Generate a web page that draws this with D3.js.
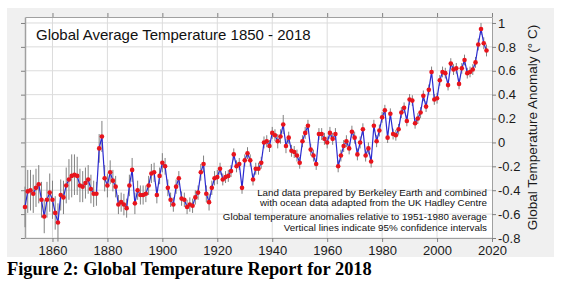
<!DOCTYPE html>
<html>
<head>
<meta charset="utf-8">
<script src="https://cdn.jsdelivr.net/npm/d3@7"></script>
<style>
  body { margin: 0; background: #fff; }
</style>
</head>
<body>
<div id="chart"></div>
<script>
// Getting the data (annual anomaly, deg C, relative to 1951-1980)
var years = d3.range(1850, 2019);
var anomaly = [
  -0.54, -0.41, -0.40, -0.43, -0.38, -0.35, -0.48, -0.62, -0.48, -0.42,
  -0.48, -0.59, -0.67, -0.44, -0.46, -0.36, -0.31, -0.28, -0.27, -0.28,
  -0.36, -0.37, -0.34, -0.31, -0.39, -0.43, -0.43, -0.05, 0.05, -0.30,
  -0.36, -0.25, -0.32, -0.37, -0.52, -0.50, -0.52, -0.55, -0.36, -0.23,
  -0.51, -0.40, -0.44, -0.44, -0.43, -0.36, -0.26, -0.25, -0.44, -0.28,
  -0.17, -0.20, -0.38, -0.48, -0.52, -0.37, -0.30, -0.47, -0.48, -0.54,
  -0.52, -0.53, -0.46, -0.42, -0.25, -0.18, -0.43, -0.50, -0.38, -0.30,
  -0.29, -0.22, -0.31, -0.29, -0.28, -0.24, -0.10, -0.20, -0.18, -0.38,
  -0.15, -0.09, -0.15, -0.31, -0.22, -0.22, -0.17, 0.00, 0.01, -0.03,
  0.08, 0.06, 0.01, 0.05, 0.15, -0.03, 0.04, -0.07, -0.08, -0.11,
  -0.17, 0.01, 0.08, 0.14, -0.06, -0.11, -0.18, 0.07, 0.07, 0.03,
  0.00, 0.08, 0.03, 0.07, -0.20, -0.11, -0.03, 0.01, -0.05, 0.09,
  0.04, -0.10, 0.00, 0.11, -0.11, -0.05, -0.16, 0.14, 0.01, 0.10,
  0.21, 0.27, 0.04, 0.24, 0.07, 0.06, 0.11, 0.25, 0.29, 0.18,
  0.36, 0.35, 0.16, 0.20, 0.25, 0.39, 0.30, 0.44, 0.59, 0.36,
  0.37, 0.52, 0.59, 0.58, 0.48, 0.66, 0.61, 0.62, 0.49, 0.62,
  0.69, 0.58, 0.59, 0.61, 0.67, 0.82, 0.95, 0.83, 0.77
];
// half width of the 95% confidence interval
var uncertainty = [
  0.17, 0.18, 0.17, 0.16, 0.16, 0.16, 0.15, 0.14, 0.15, 0.16,
  0.16, 0.14, 0.16, 0.13, 0.14, 0.15, 0.17, 0.18, 0.17, 0.16,
  0.14, 0.13, 0.13, 0.12, 0.12, 0.11, 0.10, 0.12, 0.13, 0.11,
  0.10, 0.10, 0.09, 0.09, 0.08, 0.08, 0.09, 0.08, 0.09, 0.10,
  0.09, 0.08, 0.08, 0.08, 0.07, 0.08, 0.08, 0.08, 0.07, 0.07,
  0.08, 0.07, 0.07, 0.06, 0.06, 0.06, 0.06, 0.06, 0.06, 0.06,
  0.06, 0.06, 0.06, 0.06, 0.07, 0.07, 0.07, 0.07, 0.06, 0.06,
  0.06, 0.05, 0.05, 0.05, 0.05, 0.05, 0.05, 0.05, 0.05, 0.05,
  0.05, 0.05, 0.05, 0.05, 0.05, 0.05, 0.05, 0.05, 0.05, 0.05,
  0.05, 0.05, 0.06, 0.06, 0.08, 0.06, 0.05, 0.05, 0.05, 0.05,
  0.05, 0.05, 0.05, 0.05, 0.05, 0.05, 0.05, 0.05, 0.05, 0.05,
  0.05, 0.05, 0.05, 0.05, 0.05, 0.05, 0.05, 0.05, 0.05, 0.05,
  0.05, 0.05, 0.05, 0.05, 0.05, 0.05, 0.05, 0.05, 0.05, 0.05,
  0.045, 0.045, 0.045, 0.045, 0.045, 0.045, 0.045, 0.045, 0.045, 0.045,
  0.045, 0.045, 0.045, 0.045, 0.045, 0.045, 0.045, 0.045, 0.045, 0.045,
  0.045, 0.045, 0.045, 0.045, 0.045, 0.045, 0.045, 0.045, 0.045, 0.045,
  0.045, 0.045, 0.045, 0.045, 0.045, 0.05, 0.05, 0.05, 0.05
];
var xTicks = [1860, 1880, 1900, 1920, 1940, 1960, 1980, 2000, 2020];
var yTicks = [-0.8, -0.6, -0.4, -0.2, 0, 0.2, 0.4, 0.6, 0.8, 1];
var notes = [
  "Land data prepared by Berkeley Earth and combined",
  "with ocean data adapted from the UK Hadley Centre",
  "Global temperature anomalies relative to 1951-1980 average",
  "Vertical lines indicate 95% confidence intervals"
];

var data = years.map(function (yr, i) {
  return { year: yr, value: anomaly[i], err: uncertainty[i] };
});

// Setting up the page and the plot area
var W = 561, H = 290;
var plot = { left: 25, right: 492, top: 17, bottom: 238 };

var svg = d3.select('#chart').append('svg')
  .attr('width', W)
  .attr('height', H)
  .style('display', 'block');

// grey panel behind the figure
svg.append('rect')
  .attr('x', 7).attr('y', 8)
  .attr('width', 547).attr('height', 249)
  .attr('fill', '#f0f0f0');

svg.append('rect')
  .attr('x', plot.left).attr('y', plot.top)
  .attr('width', plot.right - plot.left)
  .attr('height', plot.bottom - plot.top)
  .attr('fill', '#fff');

// Set the ranges
var x = d3.scaleLinear().domain([1850, 2020]).range([plot.left, plot.right]);
var y = d3.scaleLinear().domain([-0.8, 1.05]).range([plot.bottom, plot.top]);

// Grid lines
svg.append('g').selectAll('line')
  .data(xTicks.slice(0, -1))
  .enter().append('line')
  .attr('x1', function (d) { return x(d); })
  .attr('x2', function (d) { return x(d); })
  .attr('y1', plot.top).attr('y2', plot.bottom)
  .attr('stroke', '#dcdcdc').attr('stroke-width', 1);

svg.append('g').selectAll('line')
  .data(yTicks)
  .enter().append('line')
  .attr('x1', plot.left).attr('x2', plot.right)
  .attr('y1', function (d) { return y(d); })
  .attr('y2', function (d) { return y(d); })
  .attr('stroke', '#dcdcdc').attr('stroke-width', 1);

// Axes: bottom and right carry labels, top and left only ticks
var fmtY = function (d) { return d === 0 ? '0' : String(d); };
var font = '13px "Liberation Sans", Arial, sans-serif';

var axBottom = svg.append('g')
  .attr('transform', 'translate(0,' + plot.bottom + ')')
  .call(d3.axisBottom(x).tickValues(xTicks).tickFormat(d3.format('d'))
    .tickSize(4).tickSizeOuter(0).tickPadding(4));
var axRight = svg.append('g')
  .attr('transform', 'translate(' + plot.right + ',0)')
  .call(d3.axisRight(y).tickValues(yTicks).tickFormat(fmtY)
    .tickSize(4).tickSizeOuter(0).tickPadding(2));
var axTop = svg.append('g')
  .attr('transform', 'translate(0,' + plot.top + ')')
  .call(d3.axisTop(x).tickValues(xTicks).tickFormat('').tickSize(4).tickSizeOuter(0));
var axLeft = svg.append('g')
  .attr('transform', 'translate(' + plot.left + ',0)')
  .call(d3.axisLeft(y).tickValues(yTicks).tickFormat('').tickSize(4).tickSizeOuter(0));

[axBottom, axRight, axTop, axLeft].forEach(function (g) {
  g.selectAll('path.domain').attr('stroke', '#a0a0a0');
  g.selectAll('.tick line').attr('stroke', '#808080');
  g.selectAll('text').style('font', font).attr('fill', '#1a1a1a');
});
axLeft.select('path.domain').attr('stroke-width', 1.5);

// Y axis label
svg.append('text')
  .attr('transform', 'translate(537,' + ((plot.top + plot.bottom) / 2) + ') rotate(-90)')
  .style('text-anchor', 'middle')
  .style('font', '13.5px "Liberation Sans", Arial, sans-serif')
  .attr('fill', '#1a1a1a')
  .text('Global Temperature Anomaly (\u00b0 C)');

// Title
svg.append('text')
  .attr('x', 36).attr('y', 40)
  .style('font', '15px "Liberation Sans", Arial, sans-serif')
  .attr('fill', '#111')
  .text('Global Average Temperature 1850 - 2018');

// Confidence interval bars
svg.append('g').selectAll('line')
  .data(data)
  .enter().append('line')
  .attr('x1', function (d) { return x(d.year); })
  .attr('x2', function (d) { return x(d.year); })
  .attr('y1', function (d) { return y(d.value - d.err); })
  .attr('y2', function (d) { return y(d.value + d.err); })
  .attr('stroke', '#808080')
  .attr('stroke-width', 1);

// Define and draw the line
var valueline = d3.line()
  .x(function (d) { return x(d.year); })
  .y(function (d) { return y(d.value); });

svg.append('path')
  .datum(data)
  .attr('d', valueline)
  .attr('fill', 'none')
  .attr('stroke', '#2a2ad0')
  .attr('stroke-width', 1.2);

// Data points
svg.append('g').selectAll('circle')
  .data(data)
  .enter().append('circle')
  .attr('r', 2.3)
  .attr('fill', '#e8141c')
  .attr('cx', function (d) { return x(d.year); })
  .attr('cy', function (d) { return y(d.value); });

// Notes in the lower right corner
var noteY = [196, 205.5, 220, 231];
svg.append('g').selectAll('text')
  .data(notes)
  .enter().append('text')
  .attr('x', 487)
  .attr('y', function (d, i) { return noteY[i]; })
  .style('text-anchor', 'end')
  .style('font', '9.8px "Liberation Sans", Arial, sans-serif')
  .attr('fill', '#111')
  .text(function (d) { return d; });

// Caption under the figure
svg.append('text')
  .attr('x', 7).attr('y', 275)
  .style('font', 'bold 18.4px "Liberation Serif", "Times New Roman", serif')
  .attr('fill', '#000')
  .text('Figure 2: Global Temperature Report for 2018');
</script>
</body>
</html>
